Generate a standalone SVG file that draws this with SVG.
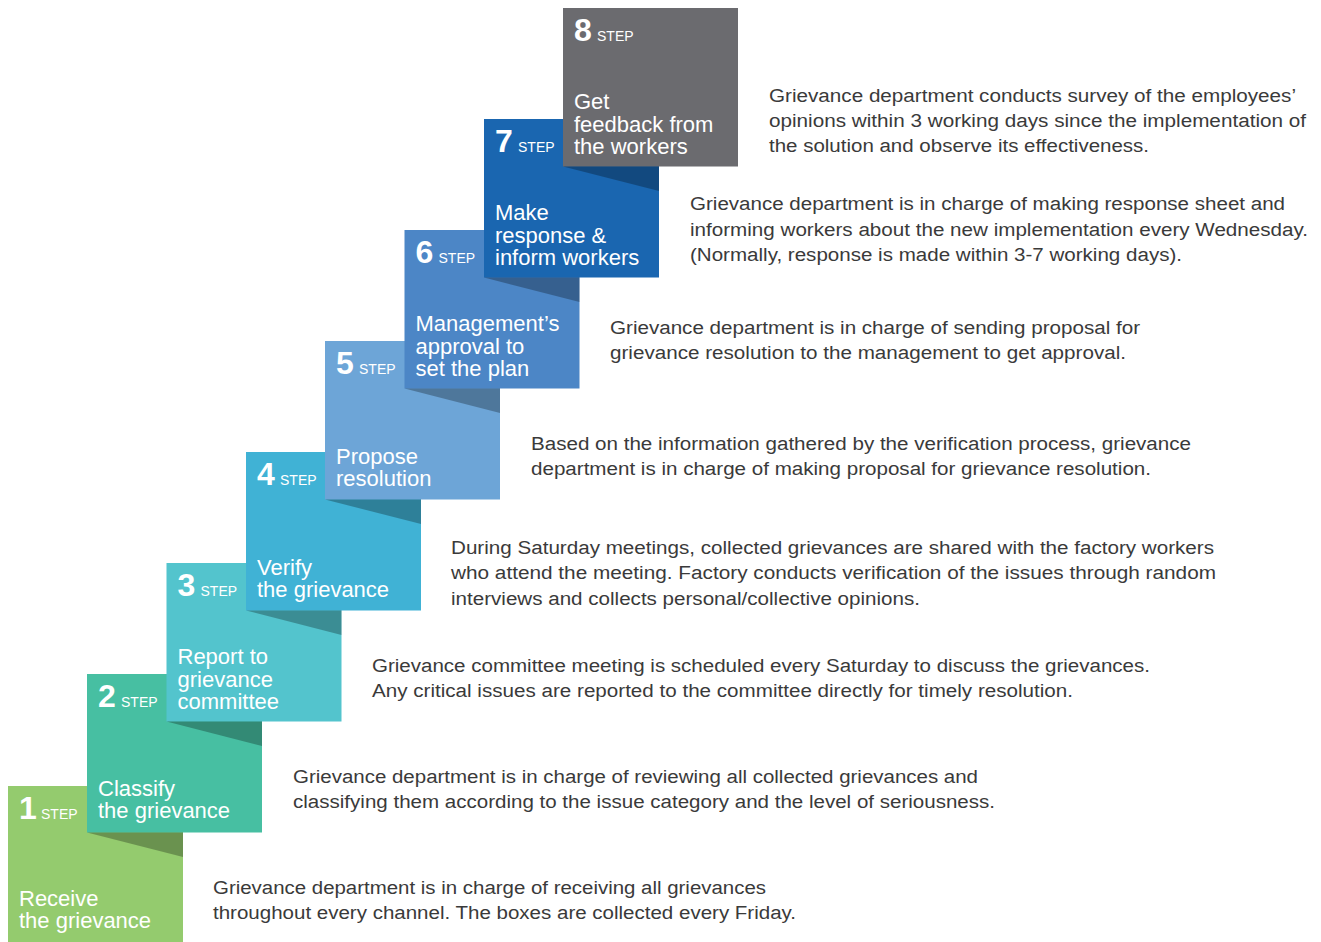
<svg xmlns="http://www.w3.org/2000/svg" width="1321" height="942" viewBox="0 0 1321 942">
  <style>
    .box { stroke: none; }
    .shade { fill: #000; fill-opacity: 0.28; }
    .num { font-family: "Liberation Sans", Arial, sans-serif; font-weight: bold; font-size: 32px; fill: #fff; }
    .step { font-family: "Liberation Sans", Arial, sans-serif; font-size: 14px; fill: #fff; }
    .title { font-family: "Liberation Sans", Arial, sans-serif; font-size: 22px; fill: #fff; }
    .desc { font-family: "Liberation Sans", Arial, sans-serif; font-size: 18px; fill: #3a3a3a; }
  </style>
  <rect width="1321" height="942" fill="#fff"/>

  <!-- Step 1 -->
  <g id="step1">
    <rect class="box" x="8" y="786" width="175" height="158" fill="#94cb6e"/>
    <text class="num" x="19" y="819">1</text>
    <text class="step" x="41" y="819">STEP</text>
    <text class="title" x="19" y="906">Receive</text>
    <text class="title" x="19" y="928">the grievance</text>
    <text class="desc" x="213" y="894" textLength="553" lengthAdjust="spacingAndGlyphs">Grievance department is in charge of receiving all grievances</text>
    <text class="desc" x="213" y="919" textLength="583" lengthAdjust="spacingAndGlyphs">throughout every channel. The boxes are collected every Friday.</text>
  </g>

  <!-- Step 2 -->
  <g id="step2">
    <rect class="box" x="87" y="674" width="175" height="158.5" fill="#47bfa2"/>
    <polygon class="shade" points="87,832.5 183,832.5 183,857"/>
    <text class="num" x="98" y="707">2</text>
    <text class="step" x="121" y="707">STEP</text>
    <text class="title" x="98" y="796">Classify</text>
    <text class="title" x="98" y="818">the grievance</text>
    <text class="desc" x="293" y="783" textLength="685" lengthAdjust="spacingAndGlyphs">Grievance department is in charge of reviewing all collected grievances and</text>
    <text class="desc" x="293" y="808" textLength="702" lengthAdjust="spacingAndGlyphs">classifying them according to the issue category and the level of seriousness.</text>
  </g>

  <!-- Step 3 -->
  <g id="step3">
    <rect class="box" x="166.5" y="563" width="175" height="158.5" fill="#53c4cd"/>
    <polygon class="shade" points="166.5,721.5 262,721.5 262,746"/>
    <text class="num" x="177.5" y="596">3</text>
    <text class="step" x="200.5" y="596">STEP</text>
    <text class="title" x="177.5" y="664">Report to</text>
    <text class="title" x="177.5" y="686.5">grievance</text>
    <text class="title" x="177.5" y="709">committee</text>
    <text class="desc" x="372" y="672" textLength="778" lengthAdjust="spacingAndGlyphs">Grievance committee meeting is scheduled every Saturday to discuss the grievances.</text>
    <text class="desc" x="372" y="697" textLength="701" lengthAdjust="spacingAndGlyphs">Any critical issues are reported to the committee directly for timely resolution.</text>
  </g>

  <!-- Step 4 -->
  <g id="step4">
    <rect class="box" x="246" y="452" width="175" height="158.5" fill="#40b2d5"/>
    <polygon class="shade" points="246,610.5 341.5,610.5 341.5,635"/>
    <text class="num" x="257" y="485">4</text>
    <text class="step" x="280" y="485">STEP</text>
    <text class="title" x="257" y="575">Verify</text>
    <text class="title" x="257" y="597">the grievance</text>
    <text class="desc" x="451" y="554" textLength="763" lengthAdjust="spacingAndGlyphs">During Saturday meetings, collected grievances are shared with the factory workers</text>
    <text class="desc" x="451" y="579" textLength="765" lengthAdjust="spacingAndGlyphs">who attend the meeting. Factory conducts verification of the issues through random</text>
    <text class="desc" x="451" y="605" textLength="469" lengthAdjust="spacingAndGlyphs">interviews and collects personal/collective opinions.</text>
  </g>

  <!-- Step 5 -->
  <g id="step5">
    <rect class="box" x="325" y="341" width="175" height="158.5" fill="#6da5d7"/>
    <polygon class="shade" points="325,499.5 421,499.5 421,524"/>
    <text class="num" x="336" y="374">5</text>
    <text class="step" x="359" y="374">STEP</text>
    <text class="title" x="336" y="464">Propose</text>
    <text class="title" x="336" y="486">resolution</text>
    <text class="desc" x="531" y="450" textLength="660" lengthAdjust="spacingAndGlyphs">Based on the information gathered by the verification process, grievance</text>
    <text class="desc" x="531" y="475" textLength="620" lengthAdjust="spacingAndGlyphs">department is in charge of making proposal for grievance resolution.</text>
  </g>

  <!-- Step 6 -->
  <g id="step6">
    <rect class="box" x="404.5" y="230" width="175" height="158.5" fill="#4c86c6"/>
    <polygon class="shade" points="404.5,388.5 500,388.5 500,413"/>
    <text class="num" x="415.5" y="263">6</text>
    <text class="step" x="438.5" y="263">STEP</text>
    <text class="title" x="415.5" y="331">Management’s</text>
    <text class="title" x="415.5" y="353.5">approval to</text>
    <text class="title" x="415.5" y="376">set the plan</text>
    <text class="desc" x="610" y="334" textLength="530" lengthAdjust="spacingAndGlyphs">Grievance department is in charge of sending proposal for</text>
    <text class="desc" x="610" y="359" textLength="516" lengthAdjust="spacingAndGlyphs">grievance resolution to the management to get approval.</text>
  </g>

  <!-- Step 7 -->
  <g id="step7">
    <rect class="box" x="484" y="119" width="175" height="158.5" fill="#1a66b0"/>
    <polygon class="shade" points="484,277.5 579.5,277.5 579.5,302"/>
    <text class="num" x="495" y="152">7</text>
    <text class="step" x="518" y="152">STEP</text>
    <text class="title" x="495" y="220">Make</text>
    <text class="title" x="495" y="242.5">response &amp;</text>
    <text class="title" x="495" y="265">inform workers</text>
    <text class="desc" x="690" y="210" textLength="595" lengthAdjust="spacingAndGlyphs">Grievance department is in charge of making response sheet and</text>
    <text class="desc" x="690" y="236" textLength="618" lengthAdjust="spacingAndGlyphs">informing workers about the new implementation every Wednesday.</text>
    <text class="desc" x="690" y="261" textLength="492" lengthAdjust="spacingAndGlyphs">(Normally, response is made within 3-7 working days).</text>
  </g>

  <!-- Step 8 -->
  <g id="step8">
    <rect class="box" x="563" y="8" width="175" height="158.5" fill="#6b6b6f"/>
    <polygon class="shade" points="563,166.5 659,166.5 659,191"/>
    <text class="num" x="574" y="41">8</text>
    <text class="step" x="597" y="41">STEP</text>
    <text class="title" x="574" y="109">Get</text>
    <text class="title" x="574" y="131.5">feedback from</text>
    <text class="title" x="574" y="154">the workers</text>
    <text class="desc" x="769" y="102" textLength="527" lengthAdjust="spacingAndGlyphs">Grievance department conducts survey of the employees’</text>
    <text class="desc" x="769" y="127" textLength="537" lengthAdjust="spacingAndGlyphs">opinions within 3 working days since the implementation of</text>
    <text class="desc" x="769" y="152" textLength="380" lengthAdjust="spacingAndGlyphs">the solution and observe its effectiveness.</text>
  </g>

  <!-- no connectors: the steps touch each other directly -->
  <g id="connectors"/>
</svg>
